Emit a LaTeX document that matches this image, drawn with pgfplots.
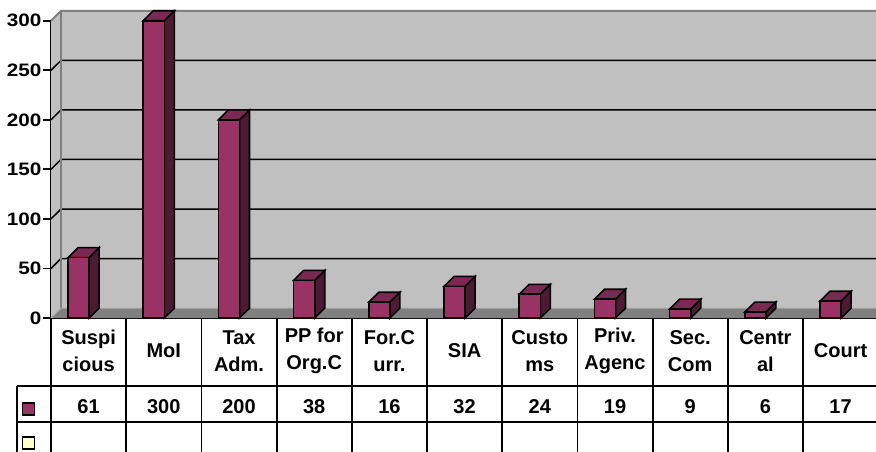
\documentclass[border=0pt]{standalone}
\usepackage{pgfplots}
\pgfplotsset{compat=1.18}
\usepackage{fontspec}
\setmainfont{Liberation Sans}
\newfontfamily\axfont{Liberation Sans}[FakeStretch=1.15]
\definecolor{barfront}{HTML}{993366}
\definecolor{barside}{HTML}{4D1A33}
\definecolor{bartop}{HTML}{7A2952}
\definecolor{wall}{HTML}{C0C0C0}
\definecolor{floorc}{HTML}{808080}
\definecolor{keyyellow}{HTML}{FFFFCC}
\begin{document}
\begin{tikzpicture}
\path[use as bounding box, clip] (0,0) rectangle (438pt,-225.5pt);
\fill[white] (0,0) rectangle (438pt,-225.5pt);
\begin{axis}[
  at={(25.5pt,-159pt)}, anchor=south west,
  scale only axis, width=413.6pt, height=148.65pt,
  xmin=-0.5, xmax=10.5, ymin=0, ymax=300,
  clip=false,
  axis x line*=bottom, axis y line*=left,
  xtick=\empty,
  ytick={0,50,100,150,200,250,300},
  ytick align=outside, ytick pos=left,
  major tick length=4pt,
  tick style={black, line width=0.9pt},
  axis line style={black, line width=0.9pt},
  /pgf/number format/assume math mode=true,
  yticklabel style={font=\axfont\bfseries\fontsize{9}{10}\selectfont, inner sep=0.6pt},
]
% walls and floor
\fill[wall] (axis cs:-0.5,0) -- (axis cs:-0.367,10) -- (axis cs:-0.367,310) -- (axis cs:-0.5,300) -- cycle;
\fill[wall] (axis cs:-0.367,10) rectangle (axis cs:10.8,310);
\draw[black, line width=0.75pt] (axis cs:-0.5,50) -- (axis cs:-0.367,60) -- (axis cs:10.8,60);
\draw[black, line width=0.75pt] (axis cs:-0.5,100) -- (axis cs:-0.367,110) -- (axis cs:10.8,110);
\draw[black, line width=0.75pt] (axis cs:-0.5,150) -- (axis cs:-0.367,160) -- (axis cs:10.8,160);
\draw[black, line width=0.75pt] (axis cs:-0.5,200) -- (axis cs:-0.367,210) -- (axis cs:10.8,210);
\draw[black, line width=0.75pt] (axis cs:-0.5,250) -- (axis cs:-0.367,260) -- (axis cs:10.8,260);
\draw[floorc, line width=1pt] (axis cs:-0.5,300) -- (axis cs:-0.367,310) -- (axis cs:10.8,310);
\draw[floorc, line width=0.6pt] (axis cs:-0.367,10) -- (axis cs:-0.367,310);
\fill[floorc] (axis cs:-0.5,0) -- (axis cs:-0.367,10) -- (axis cs:10.8,10) -- (axis cs:10.8,0) -- cycle;
\draw[wall!70!floorc, line width=0.6pt] (axis cs:-0.5,0) -- (axis cs:-0.367,10) -- (axis cs:10.8,10);

% bar sides
\addplot[fill=barside, draw=black, line width=0.8pt, mark=none, forget plot] coordinates {(0.007,0) (0.14,10) (0.14,71) (0.007,61)} -- cycle;
\addplot[fill=barside, draw=black, line width=0.8pt, mark=none, forget plot] coordinates {(1.007,0) (1.14,10) (1.14,310) (1.007,300)} -- cycle;
\addplot[fill=barside, draw=black, line width=0.8pt, mark=none, forget plot] coordinates {(2.007,0) (2.14,10) (2.14,210) (2.007,200)} -- cycle;
\addplot[fill=barside, draw=black, line width=0.8pt, mark=none, forget plot] coordinates {(3.007,0) (3.14,10) (3.14,48) (3.007,38)} -- cycle;
\addplot[fill=barside, draw=black, line width=0.8pt, mark=none, forget plot] coordinates {(4.007,0) (4.14,10) (4.14,26) (4.007,16)} -- cycle;
\addplot[fill=barside, draw=black, line width=0.8pt, mark=none, forget plot] coordinates {(5.007,0) (5.14,10) (5.14,42) (5.007,32)} -- cycle;
\addplot[fill=barside, draw=black, line width=0.8pt, mark=none, forget plot] coordinates {(6.007,0) (6.14,10) (6.14,34) (6.007,24)} -- cycle;
\addplot[fill=barside, draw=black, line width=0.8pt, mark=none, forget plot] coordinates {(7.007,0) (7.14,10) (7.14,29) (7.007,19)} -- cycle;
\addplot[fill=barside, draw=black, line width=0.8pt, mark=none, forget plot] coordinates {(8.007,0) (8.14,10) (8.14,19) (8.007,9)} -- cycle;
\addplot[fill=barside, draw=black, line width=0.8pt, mark=none, forget plot] coordinates {(9.007,0) (9.14,10) (9.14,16) (9.007,6)} -- cycle;
\addplot[fill=barside, draw=black, line width=0.8pt, mark=none, forget plot] coordinates {(10.007,0) (10.14,10) (10.14,27) (10.007,17)} -- cycle;
% bar tops
\addplot[fill=bartop, draw=black, line width=0.8pt, mark=none, forget plot] coordinates {(-0.273,61) (-0.14,71) (0.14,71) (0.007,61)} -- cycle;
\addplot[fill=bartop, draw=black, line width=0.8pt, mark=none, forget plot] coordinates {(0.727,300) (0.86,310) (1.14,310) (1.007,300)} -- cycle;
\addplot[fill=bartop, draw=black, line width=0.8pt, mark=none, forget plot] coordinates {(1.727,200) (1.86,210) (2.14,210) (2.007,200)} -- cycle;
\addplot[fill=bartop, draw=black, line width=0.8pt, mark=none, forget plot] coordinates {(2.727,38) (2.86,48) (3.14,48) (3.007,38)} -- cycle;
\addplot[fill=bartop, draw=black, line width=0.8pt, mark=none, forget plot] coordinates {(3.727,16) (3.86,26) (4.14,26) (4.007,16)} -- cycle;
\addplot[fill=bartop, draw=black, line width=0.8pt, mark=none, forget plot] coordinates {(4.727,32) (4.86,42) (5.14,42) (5.007,32)} -- cycle;
\addplot[fill=bartop, draw=black, line width=0.8pt, mark=none, forget plot] coordinates {(5.727,24) (5.86,34) (6.14,34) (6.007,24)} -- cycle;
\addplot[fill=bartop, draw=black, line width=0.8pt, mark=none, forget plot] coordinates {(6.727,19) (6.86,29) (7.14,29) (7.007,19)} -- cycle;
\addplot[fill=bartop, draw=black, line width=0.8pt, mark=none, forget plot] coordinates {(7.727,9) (7.86,19) (8.14,19) (8.007,9)} -- cycle;
\addplot[fill=bartop, draw=black, line width=0.8pt, mark=none, forget plot] coordinates {(8.727,6) (8.86,16) (9.14,16) (9.007,6)} -- cycle;
\addplot[fill=bartop, draw=black, line width=0.8pt, mark=none, forget plot] coordinates {(9.727,17) (9.86,27) (10.14,27) (10.007,17)} -- cycle;
% bar fronts
\addplot[ybar, bar width=0.28, bar shift=-0.133, fill=barfront, draw=black, line width=0.8pt, forget plot]
  coordinates {(0,61) (1,300) (2,200) (3,38) (4,16) (5,32) (6,24) (7,19) (8,9) (9,6) (10,17)};

% data table
\draw[black, line width=0.9pt] (axis cs:-0.5,0) -- ++(0pt,-70pt);
\draw[black, line width=0.9pt] (axis cs:0.5,0) -- ++(0pt,-70pt);
\draw[black, line width=0.9pt] (axis cs:1.5,0) -- ++(0pt,-70pt);
\draw[black, line width=0.9pt] (axis cs:2.5,0) -- ++(0pt,-70pt);
\draw[black, line width=0.9pt] (axis cs:3.5,0) -- ++(0pt,-70pt);
\draw[black, line width=0.9pt] (axis cs:4.5,0) -- ++(0pt,-70pt);
\draw[black, line width=0.9pt] (axis cs:5.5,0) -- ++(0pt,-70pt);
\draw[black, line width=0.9pt] (axis cs:6.5,0) -- ++(0pt,-70pt);
\draw[black, line width=0.9pt] (axis cs:7.5,0) -- ++(0pt,-70pt);
\draw[black, line width=0.9pt] (axis cs:8.5,0) -- ++(0pt,-70pt);
\draw[black, line width=0.9pt] (axis cs:9.5,0) -- ++(0pt,-70pt);
\draw[black, line width=0.9pt] (axis cs:10.5,0) -- ++(0pt,-70pt);
\draw[black, line width=0.9pt] ([xshift=-17pt,yshift=-34pt]axis cs:-0.5,0) -- ([yshift=-34pt]axis cs:10.8,0);
\draw[black, line width=0.9pt] ([xshift=-17pt,yshift=-52pt]axis cs:-0.5,0) -- ([yshift=-52pt]axis cs:10.8,0);
\draw[black, line width=0.9pt] ([xshift=-17pt,yshift=-34pt]axis cs:-0.5,0) -- ++(0pt,-40pt);

\tikzset{cat/.style={font=\bfseries\fontsize{10}{13.3}\selectfont, align=center, anchor=center, inner sep=0pt}}
\node[cat] at ([yshift=-16.5pt]axis cs:0,0) {Suspi\\cious};
\node[cat] at ([yshift=-16.5pt]axis cs:1,0) {MoI};
\node[cat] at ([yshift=-16.5pt]axis cs:2,0) {Tax\\Adm.};
\node[cat] at ([yshift=-16.5pt]axis cs:3,0) {PP for\\Org.C};
\node[cat] at ([yshift=-16.5pt]axis cs:4,0) {For.C\\urr.};
\node[cat] at ([yshift=-16.5pt]axis cs:5,0) {SIA};
\node[cat] at ([yshift=-16.5pt]axis cs:6,0) {Custo\\ms};
\node[cat] at ([yshift=-16.5pt]axis cs:7,0) {Priv.\\Agenc};
\node[cat] at ([yshift=-16.5pt]axis cs:8,0) {Sec.\\Com};
\node[cat] at ([yshift=-16.5pt]axis cs:9,0) {Centr\\al};
\node[cat] at ([yshift=-16.5pt]axis cs:10,0) {Court};

\node[cat] at ([yshift=-44.5pt]axis cs:0,0) {61};
\node[cat] at ([yshift=-44.5pt]axis cs:1,0) {300};
\node[cat] at ([yshift=-44.5pt]axis cs:2,0) {200};
\node[cat] at ([yshift=-44.5pt]axis cs:3,0) {38};
\node[cat] at ([yshift=-44.5pt]axis cs:4,0) {16};
\node[cat] at ([yshift=-44.5pt]axis cs:5,0) {32};
\node[cat] at ([yshift=-44.5pt]axis cs:6,0) {24};
\node[cat] at ([yshift=-44.5pt]axis cs:7,0) {19};
\node[cat] at ([yshift=-44.5pt]axis cs:8,0) {9};
\node[cat] at ([yshift=-44.5pt]axis cs:9,0) {6};
\node[cat] at ([yshift=-44.5pt]axis cs:10,0) {17};

\node[draw=black, fill=barfront, minimum size=6pt, inner sep=0pt, line width=0.6pt] at ([xshift=-11.2pt,yshift=-45.5pt]axis cs:-0.5,0) {};
\node[draw=black, fill=keyyellow, minimum size=6pt, inner sep=0pt, line width=0.6pt] at ([xshift=-11.2pt,yshift=-62.5pt]axis cs:-0.5,0) {};
\end{axis}
\end{tikzpicture}
\end{document}
